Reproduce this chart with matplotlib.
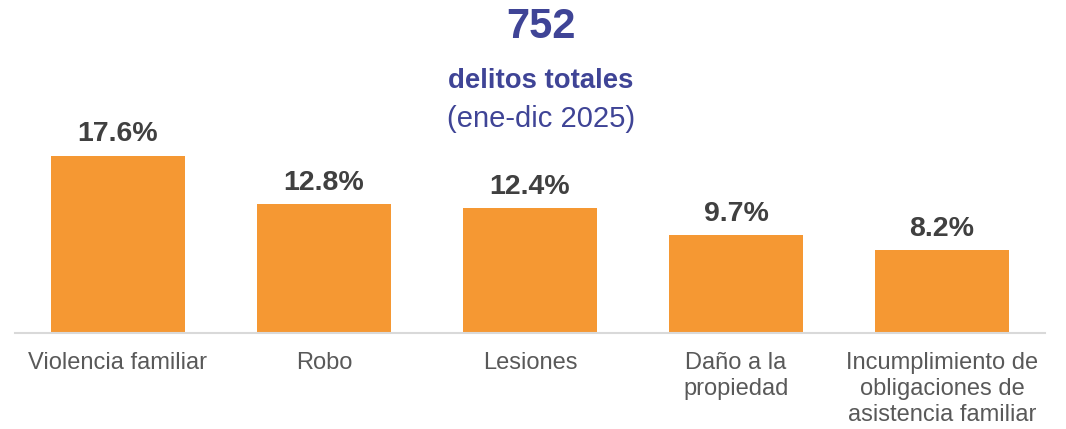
import matplotlib

matplotlib.use("Agg")
import matplotlib.pyplot as plt

plt.rcParams["font.family"] = ["Liberation Sans", "DejaVu Sans"]

categories = [
    "Violencia familiar",
    "Robo",
    "Lesiones",
    "Daño a la\npropiedad",
    "Incumplimiento de\nobligaciones de\nasistencia familiar",
]
shares = [17.6, 12.8, 12.4, 9.7, 8.2]
total_crimes = 752
period = "ene-dic 2025"

BAR_COLOR = "#F59833"
TITLE_COLOR = "#3F4496"
VALUE_COLOR = "#404040"
LABEL_COLOR = "#595959"

W, H = 1066, 429
fig = plt.figure(figsize=(W / 100, H / 100), dpi=100)

# axes box in pixels: x 15..1045, baseline at y=333
ax = fig.add_axes([15 / W, (H - 333) / H, 1030 / W, 302 / H])
x = list(range(len(categories)))
ax.bar(x, shares, width=0.65, color=BAR_COLOR, zorder=2)
ax.set_xlim(-0.5, len(categories) - 0.5)
ax.set_ylim(0, 30)

for xi, v in zip(x, shares):
    ax.annotate(f"{v:.1f}%", (xi, v), xytext=(0, 10.5), textcoords="offset points",
                ha="center", va="baseline", fontsize=20.5, fontweight="bold",
                color=VALUE_COLOR)

for side in ("top", "right", "left"):
    ax.spines[side].set_visible(False)
ax.spines["bottom"].set_color("#D9D9D9")
ax.spines["bottom"].set_linewidth(1.5)
ax.set_yticks([])
ax.set_xticks(x)
ax.set_xticklabels(categories, fontsize=17, color=LABEL_COLOR)
ax.tick_params(axis="x", length=0, pad=14)
for lbl in ax.get_xticklabels():
    lbl.set_linespacing(1.22)

fig.text(541 / W, 1 - 27 / H, str(total_crimes), ha="center", va="center",
         fontsize=30, fontweight="bold", color=TITLE_COLOR)
fig.text(541 / W, 1 - 81 / H, "delitos totales", ha="center", va="center",
         fontsize=19.8, fontweight="bold", color=TITLE_COLOR)
fig.text(541 / W, 1 - 119 / H, f"({period})", ha="center", va="center",
         fontsize=21, color=TITLE_COLOR)

fig.savefig("out.png", dpi=100)
